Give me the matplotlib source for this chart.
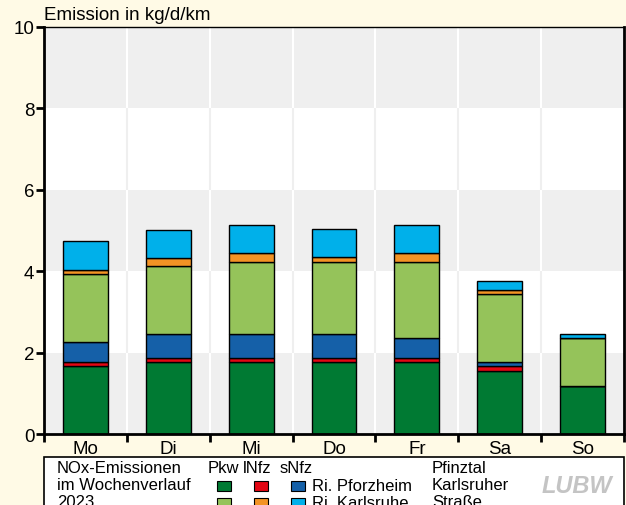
import numpy as np
import matplotlib
matplotlib.use("Agg")
import matplotlib.pyplot as plt
from matplotlib.patches import Rectangle

plt.rcParams['font.family'] = ['Liberation Sans', 'DejaVu Sans']

# Daten (kg/d/km)
tage = ['Mo', 'Di', 'Mi', 'Do', 'Fr', 'Sa', 'So']
pkw_pf = [1.66, 1.76, 1.76, 1.76, 1.76, 1.56, 1.17]
lnfz_pf = [0.10, 0.10, 0.10, 0.10, 0.10, 0.10, 0.00]
snfz_pf = [0.49, 0.60, 0.60, 0.60, 0.50, 0.10, 0.00]
pkw_ka = [1.68, 1.68, 1.77, 1.77, 1.87, 1.68, 1.18]
lnfz_ka = [0.11, 0.19, 0.21, 0.11, 0.21, 0.11, 0.00]
snfz_ka = [0.69, 0.69, 0.70, 0.69, 0.70, 0.20, 0.11]

serien = [pkw_pf, lnfz_pf, snfz_pf, pkw_ka, lnfz_ka, snfz_ka]
farben = ['#007a33', '#e30613', '#1560a8', '#95c35a', '#f39325', '#00b0ea']

CREAM = '#fffae6'
GRAU = '#efefef'

fig = plt.figure(figsize=(6.26, 5.06), dpi=100, facecolor=CREAM)
W, H = 626, 506
ax = fig.add_axes([44 / W, 1 - 435 / H, 580 / W, 407 / H])
ax.set_facecolor('white')

x = np.arange(len(tage))
ax.set_xlim(-0.5, len(tage) - 0.5)
ax.set_ylim(0, 10)

# Hintergrundbänder und Gitter
for i, y0 in enumerate(range(0, 10, 2)):
    grau = i % 2 == 0
    if grau:
        ax.axhspan(y0, y0 + 2, color=GRAU, lw=0, zorder=0)
    ax.vlines(np.arange(0.5, len(tage) - 0.5), y0, y0 + 2,
              color='white' if grau else GRAU, lw=1.5, zorder=0.5)

bottom = np.zeros(len(tage))
for werte, farbe in zip(serien, farben):
    werte = np.array(werte)
    ax.bar(x, werte, bottom=bottom, width=0.54, color=farbe,
           edgecolor='black', linewidth=1.0, zorder=2)
    bottom += werte

# Achsen
ax.spines['left'].set_linewidth(2)
ax.spines['bottom'].set_linewidth(2)
ax.spines['top'].set_linewidth(1)
ax.spines['right'].set_linewidth(2)
ax.set_yticks(range(0, 11, 2))
ax.tick_params(axis='y', direction='out', length=6, width=2, labelsize=13.5, pad=1)
ax.set_xticks(np.arange(-0.5, len(tage)), labels=[''] * (len(tage) + 1))
ax.set_xticks(x, labels=tage, minor=True)
ax.tick_params(axis='x', which='major', direction='out', length=6, width=2)
ax.tick_params(axis='x', which='minor', length=0, labelsize=13.5, pad=4)

fig.text(44 / W, 1 - 15 / H, 'Emission in kg/d/km', fontsize=13.5, va='center', ha='left')

# Legendenkasten
fig.patches.append(Rectangle((44 / W, -0.05), 580 / W, 0.05 + 1 - 458 / H,
                             transform=fig.transFigure, facecolor='white',
                             edgecolor='black', lw=1.2, zorder=1))

def fy(py):
    return 1 - py / H

fs = 12
for i, t in enumerate(['NOx-Emissionen', 'im Wochenverlauf', '2023']):
    fig.text(57 / W, fy(469 + i * 17), t, fontsize=fs, va='center', zorder=3)
for t, px in zip(['Pkw', 'lNfz', 'sNfz'], [208, 243, 280]):
    fig.text(px / W, fy(469), t, fontsize=fs, va='center', zorder=3)
for zeile, (farbsatz, label) in enumerate([(farben[:3], 'Ri. Pforzheim'),
                                          (farben[3:], 'Ri. Karlsruhe')]):
    yc = 487 + zeile * 17
    for farbe, px in zip(farbsatz, [224, 261, 298]):
        fig.patches.append(Rectangle(((px - 7) / W, fy(yc + 5)), 14 / W, 10 / H,
                                     transform=fig.transFigure, facecolor=farbe,
                                     edgecolor='black', lw=0.8, zorder=3))
    fig.text(312 / W, fy(yc), label, fontsize=fs, va='center', zorder=3)
for i, t in enumerate(['Pfinztal', 'Karlsruher', 'Straße']):
    fig.text(432 / W, fy(469 + i * 17), t, fontsize=fs, va='center', zorder=3)
fig.text(577 / W, fy(487), 'LUBW', fontsize=17, fontweight='bold', style='italic',
         color='#c4c4c4', ha='center', va='center', zorder=3)

fig.savefig('out.png', dpi=100, facecolor=CREAM)
